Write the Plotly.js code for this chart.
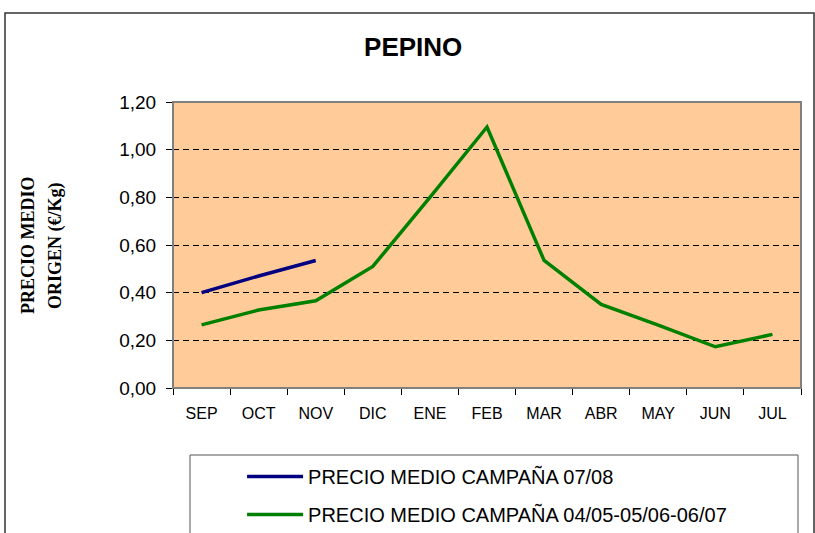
<!DOCTYPE html>
<html>
<head>
<meta charset="utf-8">
<script src="https://cdn.plot.ly/plotly-3.0.1.min.js"></script>
<style>html,body{margin:0;padding:0;background:#fff;}#chart{width:815px;height:533px;}</style>
</head>
<body>
<div id="chart"></div>
<script>
const months = ["SEP","OCT","NOV","DIC","ENE","FEB","MAR","ABR","MAY","JUN","JUL"];
const precio0708 = [0.40, 0.47, 0.535];
const precioMedio3 = [0.265, 0.327, 0.366, 0.51, 0.80, 1.095, 0.535, 0.351, 0.264, 0.173, 0.225];
const yTicks = [0, 0.2, 0.4, 0.6, 0.8, 1.0, 1.2];

const traces = [
  {x: months.slice(0, precio0708.length), y: precio0708, type: "scatter", mode: "lines",
   name: "PRECIO MEDIO CAMPAÑA 07/08", legendgroup: "a",
   line: {color: "#000080", width: 3.5}},
  {x: months, y: precioMedio3, type: "scatter", mode: "lines",
   name: "PRECIO MEDIO CAMPAÑA 04/05-05/06-06/07", legendgroup: "b",
   line: {color: "#008000", width: 3.5}}
];

const layout = {
  width: 815, height: 533,
  margin: {l: 173, r: 14, t: 102, b: 145},
  paper_bgcolor: "#ffffff",
  plot_bgcolor: "#FFCC99",
  separators: ",.",
  font: {family: "Arial, Liberation Sans, sans-serif", color: "#000"},
  title: {text: "PEPINO", x: 0.507, xanchor: "center", y: 0.912, yanchor: "middle",
          font: {size: 26, weight: "bold", family: "Arial, Liberation Sans, sans-serif", color: "#000"}},
  xaxis: {type: "category", categoryorder: "array", categoryarray: months,
          range: [-0.5, 10.5], tickson: "boundaries", ticks: "outside", ticklen: 6,
          tickcolor: "#000", showline: true, linecolor: "#000", linewidth: 1,
          showgrid: false, zeroline: false, tickfont: {size: 16}, ticklabelstandoff: 11},
  yaxis: {range: [0, 1.2], tickvals: yTicks, tickformat: ".2f", ticks: "outside",
          ticklen: 6, tickcolor: "#000", showline: true, linecolor: "#000", linewidth: 1,
          showgrid: true, gridcolor: "#000", gridwidth: 1, griddash: "6px,4px",
          zeroline: false, tickfont: {size: 19}, ticklabelstandoff: 6},
  showlegend: true,
  legend: {x: 0.11, xanchor: "left", y: 1 - 457/533, yref: "container", yanchor: "top",
           bgcolor: "rgba(0,0,0,0)", borderwidth: 0, font: {size: 20},
           itemwidth: 56, tracegroupgap: 9, traceorder: "grouped"},
  annotations: [
    {text: "PRECIO MEDIO", xref: "paper", yref: "paper", x: (28-173)/628, y: 0.5,
     textangle: -90, showarrow: false, xanchor: "center", yanchor: "middle",
     font: {family: "Times New Roman, Liberation Serif, serif", size: 18, weight: "bold"}},
    {text: "ORIGEN (€/Kg)", xref: "paper", yref: "paper", x: (55-173)/628, y: 0.5,
     textangle: -90, showarrow: false, xanchor: "center", yanchor: "middle",
     font: {family: "Times New Roman, Liberation Serif, serif", size: 18, weight: "bold"}}
  ],
  shapes: [
    {type: "rect", xref: "paper", yref: "paper", x0: 0, x1: 1, y0: 0, y1: 1,
     line: {color: "#808080", width: 2}, layer: "above"},
    {type: "rect", xref: "paper", yref: "paper", x0: (190-173)/628, x1: (798-173)/628,
     y0: -0.65, y1: (388-455)/286, line: {color: "#555", width: 1}},
    {type: "rect", xref: "paper", yref: "paper", x0: (5-173)/628, x1: (814-173)/628,
     y0: -0.7, y1: (388-13)/286, line: {color: "#333", width: 1.5}}
  ]
};

Plotly.newPlot("chart", traces, layout, {displayModeBar: false, staticPlot: true});
</script>
</body>
</html>
